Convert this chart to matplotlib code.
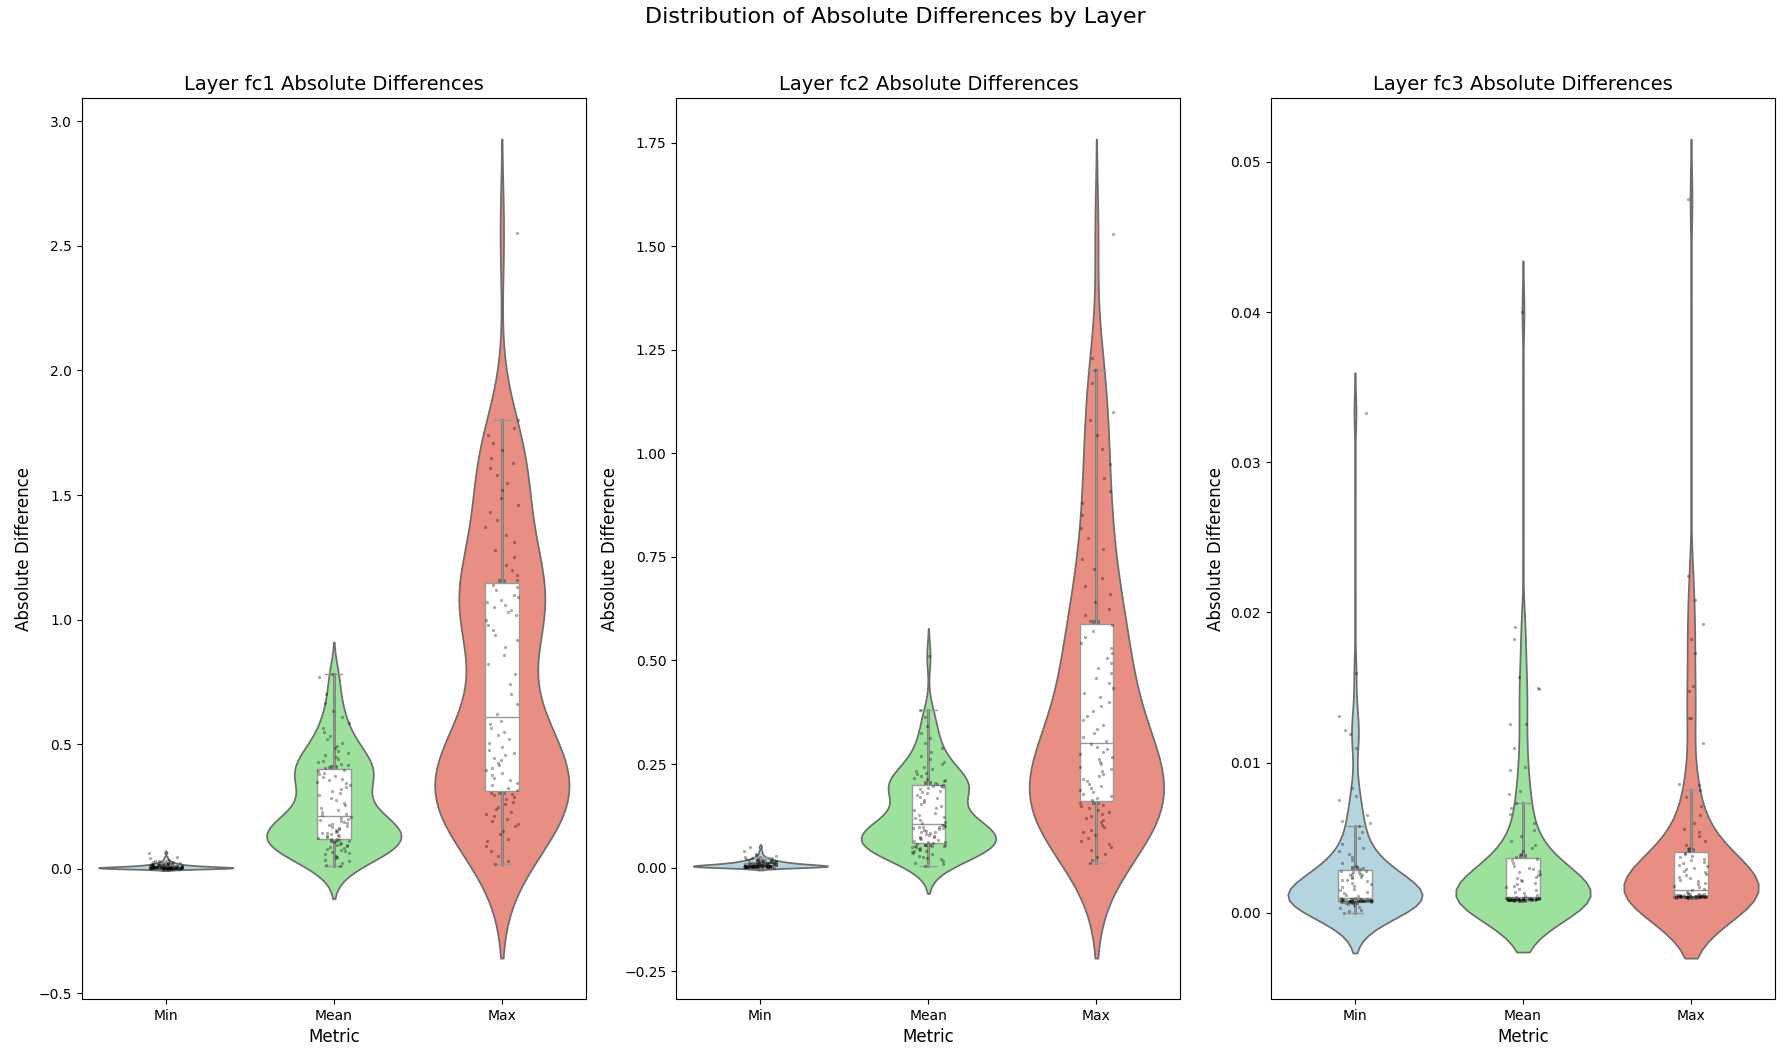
import numpy as np
import pandas as pd
import matplotlib
matplotlib.use('Agg')
import matplotlib.pyplot as plt
import seaborn as sns

metrics = ['Min', 'Mean', 'Max']
layers = ['fc1', 'fc2', 'fc3']
palette = ['lightblue', 'lightgreen', 'salmon']

# values (sorted, roughly 100 per metric)
fc1_min = [0.0003, 0.0005, 0.0007, 0.0008, 0.0009, 0.001, 0.0011, 0.0012, 0.0013, 0.0014,
           0.0015, 0.0016, 0.0017, 0.0018, 0.0019, 0.002, 0.0021, 0.0022, 0.0023, 0.0024,
           0.0025, 0.0026, 0.0027, 0.0028, 0.0029, 0.003, 0.0031, 0.0032, 0.0033, 0.0034,
           0.0035, 0.0036, 0.0037, 0.0038, 0.0039, 0.004, 0.0041, 0.0042, 0.0043, 0.0044,
           0.0045, 0.0046, 0.0047, 0.0048, 0.0049, 0.005, 0.0052, 0.0054, 0.0056, 0.0058,
           0.006, 0.0062, 0.0064, 0.0066, 0.0068, 0.007, 0.0072, 0.0074, 0.0076, 0.0078,
           0.008, 0.0083, 0.0086, 0.0089, 0.0092, 0.0095, 0.0098, 0.0101, 0.0104, 0.0107,
           0.011, 0.0114, 0.0118, 0.0122, 0.0126, 0.013, 0.0135, 0.014, 0.0145, 0.015,
           0.0156, 0.0162, 0.0168, 0.0175, 0.0182, 0.019, 0.0198, 0.0207, 0.0216, 0.0226,
           0.0237, 0.025, 0.0265, 0.0282, 0.030, 0.033, 0.037, 0.042, 0.048, 0.065]
fc1_mean = [0.010, 0.015, 0.022, 0.030, 0.036, 0.042, 0.048, 0.053, 0.058, 0.063,
            0.068, 0.072, 0.076, 0.080, 0.084, 0.088, 0.091, 0.094, 0.097, 0.100,
            0.103, 0.106, 0.110, 0.114, 0.118, 0.121, 0.124, 0.127, 0.130, 0.133,
            0.136, 0.139, 0.142, 0.145, 0.148, 0.151, 0.155, 0.159, 0.163, 0.167,
            0.171, 0.175, 0.179, 0.183, 0.187, 0.191, 0.195, 0.199, 0.203, 0.208,
            0.214, 0.220, 0.228, 0.236, 0.245, 0.255, 0.265, 0.275, 0.285, 0.295,
            0.305, 0.314, 0.322, 0.330, 0.337, 0.344, 0.350, 0.356, 0.362, 0.368,
            0.374, 0.380, 0.386, 0.392, 0.398, 0.404, 0.410, 0.416, 0.422, 0.428,
            0.434, 0.441, 0.448, 0.456, 0.464, 0.473, 0.483, 0.494, 0.506, 0.519,
            0.533, 0.548, 0.565, 0.585, 0.608, 0.635, 0.665, 0.700, 0.770, 0.780]
fc1_max = [0.02, 0.03, 0.05, 0.07, 0.09, 0.11, 0.12, 0.14, 0.15, 0.17,
           0.18, 0.19, 0.20, 0.21, 0.22, 0.23, 0.24, 0.25, 0.26, 0.27,
           0.28, 0.29, 0.295, 0.30, 0.305, 0.315, 0.325, 0.335, 0.345, 0.355,
           0.365, 0.375, 0.385, 0.395, 0.405, 0.415, 0.425, 0.435, 0.445, 0.455,
           0.465, 0.475, 0.49, 0.505, 0.52, 0.535, 0.55, 0.565, 0.58, 0.595,
           0.62, 0.66, 0.70, 0.74, 0.78, 0.82, 0.86, 0.89, 0.92, 0.94,
           0.96, 0.98, 1.00, 1.02, 1.03, 1.04, 1.05, 1.06, 1.07, 1.08,
           1.09, 1.10, 1.12, 1.13, 1.14, 1.16, 1.18, 1.20, 1.22, 1.25,
           1.28, 1.31, 1.34, 1.37, 1.40, 1.43, 1.46, 1.49, 1.52, 1.55,
           1.58, 1.61, 1.63, 1.65, 1.68, 1.71, 1.74, 1.77, 1.80, 2.55]

fc2_min = [0.0002, 0.0004, 0.0005, 0.0006, 0.0007, 0.0008, 0.0009, 0.001, 0.0011, 0.0012,
           0.0013, 0.0014, 0.0015, 0.0016, 0.0017, 0.0018, 0.0019, 0.002, 0.0021, 0.0022,
           0.0023, 0.0024, 0.0025, 0.0026, 0.0027, 0.0028, 0.0029, 0.003, 0.0031, 0.0032,
           0.0033, 0.0034, 0.0035, 0.0036, 0.0037, 0.0038, 0.0039, 0.004, 0.0041, 0.0042,
           0.0043, 0.0044, 0.0045, 0.0046, 0.0048, 0.005, 0.0052, 0.0054, 0.0056, 0.0058,
           0.006, 0.0062, 0.0064, 0.0066, 0.0068, 0.007, 0.0072, 0.0074, 0.0076, 0.0078,
           0.008, 0.0082, 0.0084, 0.0086, 0.0088, 0.009, 0.0093, 0.0096, 0.0099, 0.0102,
           0.0105, 0.0108, 0.0111, 0.0114, 0.0117, 0.012, 0.0124, 0.0128, 0.0132, 0.0136,
           0.014, 0.0145, 0.015, 0.0155, 0.016, 0.0166, 0.0172, 0.0178, 0.0185, 0.0192,
           0.020, 0.021, 0.022, 0.0235, 0.025, 0.027, 0.030, 0.034, 0.040, 0.050]
fc2_mean = [0.005, 0.008, 0.012, 0.016, 0.020, 0.023, 0.026, 0.029, 0.032, 0.035,
            0.037, 0.039, 0.041, 0.043, 0.045, 0.047, 0.049, 0.050, 0.051, 0.052,
            0.053, 0.054, 0.055, 0.057, 0.059, 0.061, 0.063, 0.065, 0.067, 0.069,
            0.071, 0.073, 0.075, 0.077, 0.079, 0.081, 0.083, 0.085, 0.087, 0.089,
            0.091, 0.093, 0.095, 0.096, 0.097, 0.098, 0.099, 0.100, 0.102, 0.104,
            0.107, 0.111, 0.115, 0.119, 0.123, 0.128, 0.133, 0.138, 0.143, 0.148,
            0.153, 0.158, 0.163, 0.167, 0.171, 0.175, 0.179, 0.183, 0.186, 0.189,
            0.192, 0.194, 0.196, 0.198, 0.199, 0.202, 0.205, 0.208, 0.211, 0.214,
            0.217, 0.221, 0.225, 0.229, 0.233, 0.238, 0.243, 0.249, 0.255, 0.262,
            0.270, 0.279, 0.289, 0.300, 0.312, 0.326, 0.343, 0.363, 0.380, 0.510]
fc2_max = [0.010, 0.018, 0.026, 0.034, 0.042, 0.050, 0.057, 0.064, 0.071, 0.078,
           0.085, 0.091, 0.097, 0.103, 0.109, 0.115, 0.120, 0.125, 0.130, 0.135,
           0.140, 0.144, 0.148, 0.152, 0.157, 0.162, 0.167, 0.172, 0.177, 0.182,
           0.187, 0.192, 0.197, 0.202, 0.208, 0.214, 0.220, 0.226, 0.232, 0.238,
           0.244, 0.250, 0.256, 0.262, 0.268, 0.274, 0.280, 0.286, 0.292, 0.298,
           0.305, 0.315, 0.325, 0.335, 0.345, 0.356, 0.367, 0.378, 0.389, 0.400,
           0.411, 0.422, 0.434, 0.446, 0.458, 0.470, 0.482, 0.494, 0.506, 0.518,
           0.530, 0.543, 0.556, 0.570, 0.585, 0.595, 0.610, 0.625, 0.640, 0.660,
           0.680, 0.700, 0.720, 0.745, 0.770, 0.795, 0.820, 0.850, 0.880, 0.910,
           0.940, 0.975, 1.010, 1.045, 1.080, 1.100, 1.170, 1.200, 1.230, 1.530]

fc3_min = [0.0000, 0.0001, 0.0002, 0.0003, 0.0004, 0.0005, 0.0006, 0.00065, 0.0007, 0.0007,
           0.00072, 0.00073, 0.00074, 0.00075, 0.00075, 0.00076, 0.00076, 0.00077, 0.00077, 0.00078,
           0.00078, 0.00079, 0.00079, 0.0008, 0.0008, 0.00081, 0.00081, 0.00082, 0.00082, 0.00083,
           0.00083, 0.00084, 0.00084, 0.00085, 0.00085, 0.00086, 0.00086, 0.00087, 0.00087, 0.00088,
           0.00088, 0.00089, 0.00089, 0.0009, 0.0009, 0.00091, 0.00092, 0.00093, 0.00095, 0.00098,
           0.0010, 0.0011, 0.0012, 0.0013, 0.0014, 0.0015, 0.0016, 0.0017, 0.0018, 0.0019,
           0.0020, 0.0021, 0.0022, 0.0022, 0.0023, 0.0024, 0.0024, 0.0025, 0.0025, 0.0026,
           0.0026, 0.0027, 0.0027, 0.0028, 0.0028, 0.0029, 0.0030, 0.0031, 0.0033, 0.0035,
           0.0037, 0.0039, 0.0041, 0.0043, 0.0046, 0.0050, 0.0054, 0.0058, 0.0060, 0.0061,
           0.0065, 0.0075, 0.0078, 0.0083, 0.0110, 0.0119, 0.0122, 0.0131, 0.0160, 0.0333]
fc3_mean = [0.00080, 0.00082, 0.00083, 0.00084, 0.00085, 0.00085, 0.00086, 0.00086, 0.00087, 0.00087,
            0.00087, 0.00088, 0.00088, 0.00088, 0.00088, 0.00089, 0.00089, 0.00089, 0.00089, 0.0009,
            0.0009, 0.0009, 0.0009, 0.0009, 0.0009, 0.00091, 0.00091, 0.00091, 0.00092, 0.00092,
            0.00092, 0.00093, 0.00093, 0.00093, 0.00094, 0.00094, 0.00094, 0.00095, 0.00095, 0.00095,
            0.00096, 0.00096, 0.00097, 0.00097, 0.00098, 0.00098, 0.00099, 0.00099, 0.0010, 0.0010,
            0.00105, 0.0011, 0.0012, 0.0013, 0.0014, 0.0015, 0.0016, 0.0017, 0.0018, 0.0019,
            0.0020, 0.0021, 0.0022, 0.0023, 0.0024, 0.0025, 0.0026, 0.0027, 0.0028, 0.0029,
            0.0030, 0.0031, 0.0033, 0.0035, 0.0036, 0.0037, 0.0039, 0.0041, 0.0043, 0.0045,
            0.0048, 0.0051, 0.0055, 0.0060, 0.0066, 0.0070, 0.0073, 0.0079, 0.0081, 0.0095,
            0.0097, 0.0110, 0.0126, 0.0126, 0.0149, 0.0150, 0.0157, 0.0182, 0.0190, 0.0400]
fc3_max = [0.00100, 0.00101, 0.00102, 0.00103, 0.00103, 0.00104, 0.00104, 0.00105, 0.00105, 0.00105,
           0.00106, 0.00106, 0.00106, 0.00107, 0.00107, 0.00107, 0.00107, 0.00108, 0.00108, 0.00108,
           0.00108, 0.00109, 0.00109, 0.00109, 0.0011, 0.0011, 0.0011, 0.00111, 0.00111, 0.00112,
           0.00112, 0.00113, 0.00113, 0.00114, 0.00114, 0.00115, 0.00115, 0.00116, 0.00117, 0.00118,
           0.00119, 0.0012, 0.00121, 0.00122, 0.00124, 0.00126, 0.00128, 0.0013, 0.0014, 0.0015,
           0.0016, 0.0017, 0.0018, 0.0019, 0.0020, 0.0021, 0.0022, 0.0023, 0.0024, 0.0025,
           0.0026, 0.0027, 0.0028, 0.0029, 0.0030, 0.0031, 0.0032, 0.0033, 0.0034, 0.0035,
           0.0036, 0.0037, 0.0038, 0.0039, 0.0040, 0.0041, 0.0043, 0.0045, 0.0048, 0.0051,
           0.0054, 0.0056, 0.0060, 0.0065, 0.0071, 0.0077, 0.0082, 0.0085, 0.0086, 0.0113,
           0.0130, 0.0130, 0.0148, 0.0151, 0.0173, 0.0182, 0.0192, 0.0208, 0.0224, 0.0475]

layer_data = {
    'fc1': [fc1_min, fc1_mean, fc1_max],
    'fc2': [fc2_min, fc2_mean, fc2_max],
    'fc3': [fc3_min, fc3_mean, fc3_max],
}
# kde bandwidth tweak per layer (fewer points than the original run)
bw_adjust = {'fc1': 0.88, 'fc2': 0.87, 'fc3': 0.78}

np.random.seed(0)  # only for the strip jitter

fig, axes = plt.subplots(1, 3, figsize=(17.9, 10.55), dpi=100)
fig.suptitle('Distribution of Absolute Differences by Layer', fontsize=16, y=0.993)

for ax, layer in zip(axes, layers):
    vals = layer_data[layer]
    df = pd.DataFrame({
        'Metric': np.repeat(metrics, [len(v) for v in vals]),
        'Absolute Difference': np.concatenate(vals),
    })
    sns.violinplot(data=df, x='Metric', y='Absolute Difference', hue='Metric',
                   palette=palette, inner='box', density_norm='width',
                   bw_adjust=bw_adjust[layer], legend=False, ax=ax)
    sns.boxplot(data=df, x='Metric', y='Absolute Difference', width=0.2,
                showfliers=False, color='white', linecolor='gray',
                ax=ax)
    sns.stripplot(data=df, x='Metric', y='Absolute Difference', color='black',
                  alpha=0.3, size=2, linewidth=0.3, edgecolor='black',
                  jitter=True, ax=ax)
    ax.set_title(f'Layer {layer} Absolute Differences', fontsize=14)
    ax.set_xlabel('Metric', fontsize=12)
    ax.set_ylabel('Absolute Difference', fontsize=12)

plt.tight_layout()
fig.subplots_adjust(top=0.907, bottom=0.053)
plt.savefig('out.png')
